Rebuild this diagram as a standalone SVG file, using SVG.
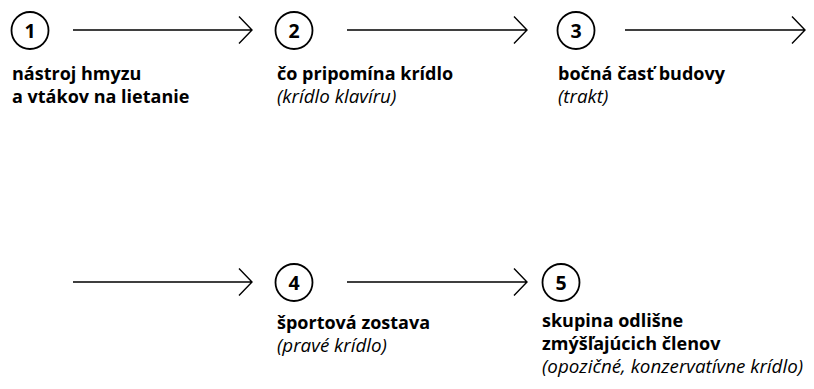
<svg xmlns="http://www.w3.org/2000/svg" width="814" height="389" viewBox="0 0 814 389">
<defs>
<style>
.c{fill:none;stroke:#000;stroke-width:1.8}
.n{font-family:"Open Sans","Liberation Sans",sans-serif;font-weight:bold;font-size:19.5px;text-anchor:middle;fill:#000}
.b{font-family:"Open Sans","Liberation Sans",sans-serif;font-weight:bold;font-size:18px;fill:#000}
.i{font-family:"Open Sans","Liberation Sans",sans-serif;font-style:italic;font-size:18.8px;fill:#000}
.l{fill:none;stroke:#000;stroke-width:1.4}
</style>
</defs>
<rect width="814" height="389" fill="#fff"/>
<g id="connectors">
<path class="l" d="M73 30H252M239 16.5L252 30L239 43.5"/>
<path class="l" d="M347 30H527M514 16.5L527 30L514 43.5"/>
<path class="l" d="M625 30H805M792 16.5L805 30L792 43.5"/>
<path class="l" d="M73 282H252M239 268.5L252 282L239 295.5"/>
<path class="l" d="M347 282H527M514 268.5L527 282L514 295.5"/>
</g>
<g id="n1">
<circle class="c" cx="30" cy="30.5" r="18.5"/>
<text class="n" x="30" y="37.5">1</text>
<text class="b" x="12" y="80">nástroj hmyzu</text>
<text class="b" x="12" y="103">a vtákov na lietanie</text>
</g>
<g id="n2">
<circle class="c" cx="294" cy="30.5" r="18.5"/>
<text class="n" x="294" y="37.5">2</text>
<text class="b" x="277" y="80">čo pripomína krídlo</text>
<text class="i" x="277" y="103">(krídlo klavíru)</text>
</g>
<g id="n3">
<circle class="c" cx="576" cy="30.5" r="18.5"/>
<text class="n" x="576" y="37.5">3</text>
<text class="b" x="558" y="80">bočná časť budovy</text>
<text class="i" x="558" y="103">(trakt)</text>
</g>
<g id="n4">
<circle class="c" cx="294" cy="282.5" r="18.5"/>
<text class="n" x="294" y="289.5">4</text>
<text class="b" x="277" y="329">športová zostava</text>
<text class="i" x="277" y="352">(pravé krídlo)</text>
</g>
<g id="n5">
<circle class="c" cx="561" cy="282.5" r="18.5"/>
<text class="n" x="561" y="289.5">5</text>
<text class="b" x="542" y="327">skupina odlišne</text>
<text class="b" x="542" y="350">zmýšľajúcich členov</text>
<text class="i" x="542" y="373">(opozičné, konzervatívne krídlo)</text>
</g>
</svg>
